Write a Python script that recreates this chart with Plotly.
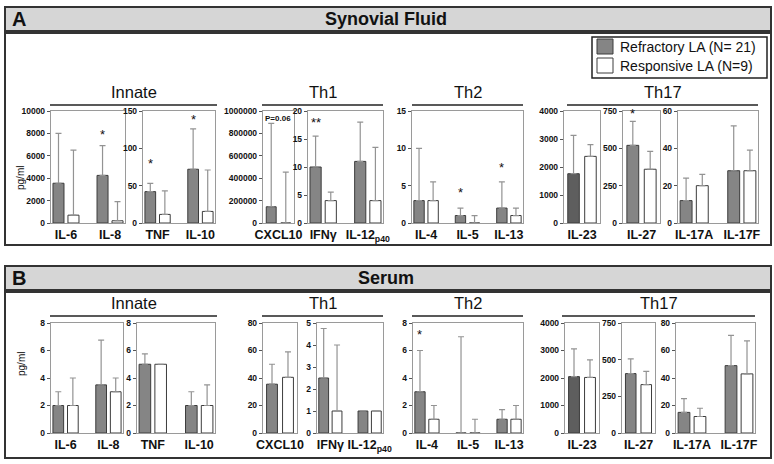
import plotly.graph_objects as go

FONT = "Liberation Sans, Arial, sans-serif"
W, H = 774, 464

# ---------------- data ----------------
group_names = ["Refractory LA (N= 21)", "Responsive LA (N=9)"]
block_labels = ["Innate", "Th1", "Th2", "Th17"]

cats = [["IL-6", "IL-8"], ["TNF", "IL-10"], ["CXCL10"], ["IFNγ", "IL-12<sub>p40</sub>"],
        ["IL-4", "IL-5", "IL-13"], ["IL-23"], ["IL-27"], ["IL-17A", "IL-17F"]]

# Panel A: synovial fluid (bar height and top of error bar)
sf_refractory = [[3550, 4250], [42, 72], [145000], [10, 11], [3, 1, 2], [1760], [520], [12, 28]]
sf_refractory_upper = [[8000, 6900], [53, 126], [890000], [15.5, 18], [10, 2, 5.5], [3130], [680], [24, 52]]
sf_responsive = [[700, 200], [11.5, 15.5], [0], [4, 4], [3, 0, 1], [2380], [360], [20, 28]]
sf_responsive_upper = [[6500, 1900], [43, 71], [455000], [5.5, 13.5], [5.5, 1, 2], [2800], [480], [26, 39]]
sf_ymax = [10000, 150, 1000000, 20, 15, 4000, 750, 60]
sf_ystep = [2000, 50, 200000, 5, 5, 1000, 250, 20]
sf_stars = [(0, 1, "*", 7900), (1, 0, "*", 80), (1, 1, "*", 138), (3, 0, "**", 18),
            (4, 1, "*", 4.1), (4, 2, "*", 7.5), (6, 0, "*", 730)]

# Panel B: serum
se_refractory = [[2, 3.5], [5, 2], [35.5], [2.5, 1], [3, 0, 1], [2050], [405], [15, 49]]
se_refractory_upper = [[3, 6.75], [5.75, 3], [50], [4.75, 1], [6, 7, 1.7], [3060], [505], [25, 71]]
se_responsive = [[2, 3], [5, 2], [40.5], [1, 1], [1, 0, 1], [2020], [330], [12, 43]]
se_responsive_upper = [[4, 4], [5, 3.5], [59], [4, 1], [2, 1, 2], [2660], [420], [18, 67]]
se_ymax = [8, 8, 80, 5, 8, 4000, 750, 80]
se_ystep = [2, 2, 20, 1, 2, 1000, 250, 20]
se_stars = [(4, 0, "*", 7.2)]

# ---------------- layout geometry (pixels) ----------------
A_xdom = [(51, 125), (143, 215), (263, 294), (308, 383), (412, 523), (564, 600), (623, 660), (678, 758)]
B_xdom = [(51, 123), (137, 215), (263, 297), (317, 383), (413, 523), (565, 599), (622, 655), (676, 755)]
A_ydom = (111, 223)
B_ydom = (323, 433)
A_blocks = [(50, 217), (262, 383), (412, 523), (567, 758)]
B_blocks = [(50, 217), (262, 383), (412, 523), (562, 755)]
ylabel_centers = [178, 364]


def px(x):
    return x / W


def py(y):
    return 1 - y / H


REF_COLOR = "#858585"
REF_DARK = "#5e5e5e"
EDGE = "#3c3c3c"
ERR = "#939393"
FRAME = "#9a9a9a"

fig = go.Figure()
layout = {}
annotations = []
shapes = []

panels = [
    dict(ref=sf_refractory, refu=sf_refractory_upper, res=sf_responsive, resu=sf_responsive_upper,
         ymax=sf_ymax, ystep=sf_ystep, stars=sf_stars, xdom=A_xdom, ydom=A_ydom),
    dict(ref=se_refractory, refu=se_refractory_upper, res=se_responsive, resu=se_responsive_upper,
         ymax=se_ymax, ystep=se_ystep, stars=se_stars, xdom=B_xdom, ydom=B_ydom),
]

k = 0
for p_i, P in enumerate(panels):
    for j in range(8):
        k += 1
        c = cats[j]
        n = len(c)
        xs = list(range(n))
        if n == 1:
            a, w, off = 0.5, 0.32, 0.235
        else:
            a, w, off = 0.34, 0.25, 0.17
        xa = "x" if k == 1 else f"x{k}"
        ya = "y" if k == 1 else f"y{k}"
        xkey = "xaxis" if k == 1 else f"xaxis{k}"
        ykey = "yaxis" if k == 1 else f"yaxis{k}"
        ref = P["ref"][j]
        res = P["res"][j]
        refcol = REF_DARK if c[0] == "IL-23" else REF_COLOR
        fig.add_trace(go.Bar(
            x=xs, y=ref, width=w, offset=-off - w / 2, xaxis=xa, yaxis=ya, showlegend=False,
            name=group_names[0],
            marker=dict(color=refcol, line=dict(color=EDGE, width=1)),
            error_y=dict(type="data", symmetric=False,
                         array=[u - v for u, v in zip(P["refu"][j], ref)], arrayminus=[0] * n,
                         color=ERR, thickness=1.2, width=3)))
        fig.add_trace(go.Bar(
            x=xs, y=res, width=w, offset=off - w / 2, xaxis=xa, yaxis=ya, showlegend=False,
            name=group_names[1],
            marker=dict(color="white", line=dict(color=EDGE, width=1)),
            error_y=dict(type="data", symmetric=False,
                         array=[u - v for u, v in zip(P["resu"][j], res)], arrayminus=[0] * n,
                         color=ERR, thickness=1.2, width=3)))
        x0, x1 = P["xdom"][j]
        y0, y1 = P["ydom"]
        ymax, ystep = P["ymax"][j], P["ystep"][j]
        tv = list(range(0, ymax + 1, ystep))
        layout[xkey] = dict(domain=[px(x0), px(x1)], range=[-a, n - 1 + a], anchor=ya,
                            tickmode="array", tickvals=xs, ticktext=c, ticks="",
                            showline=True, mirror=True, linecolor=FRAME, linewidth=1.2,
                            showgrid=False, zeroline=False, fixedrange=True, automargin=False,
                            tickfont=dict(family=FONT, size=12.5, color="#111", weight="bold"))
        layout[ykey] = dict(domain=[py(y1), py(y0)], range=[0, ymax], anchor=xa,
                            tickmode="array", tickvals=tv, ticktext=[str(t) for t in tv],
                            ticks="outside", ticklen=3, tickwidth=1, tickcolor="#555",
                            showline=True, mirror=True, linecolor=FRAME, linewidth=1.2,
                            showgrid=False, zeroline=False, fixedrange=True, automargin=False,
                            tickfont=dict(family=FONT, size=8.5, color="#111", weight="bold"))
        for (sj, ci, txt, yv) in P["stars"]:
            if sj == j:
                annotations.append(dict(x=ci - off, y=yv, xref=xa, yref=ya, text=txt, showarrow=False,
                                        font=dict(family=FONT, size=13, color="#111"),
                                        xanchor="center", yanchor="middle"))
        if p_i == 0 and j == 2:
            annotations.append(dict(x=-0.5, y=ymax * 0.935, xref=xa, yref=ya, text="<b>P=0.06</b>",
                                    showarrow=False, xanchor="left", yanchor="middle",
                                    font=dict(family=FONT, size=8, color="#111")))

# headers and boxes
for (hy0, hy1, by0, by1, letter, title) in [(7, 31, 33, 245, "A", "Synovial Fluid"),
                                             (266, 290, 292, 458, "B", "Serum")]:
    shapes.append(dict(type="rect", xref="paper", yref="paper", x0=px(5), x1=px(771), y0=py(hy1), y1=py(hy0),
                       fillcolor="#d6d6d6", line=dict(color="#333", width=2), layer="below"))
    shapes.append(dict(type="rect", xref="paper", yref="paper", x0=px(5), x1=px(771), y0=py(by1), y1=py(by0),
                       fillcolor="rgba(0,0,0,0)", line=dict(color="#333", width=2), layer="below"))
    annotations.append(dict(x=px(10), y=py((hy0 + hy1) / 2), xref="paper", yref="paper", text=f"<b>{letter}</b>",
                            showarrow=False, xanchor="left", yanchor="middle",
                            font=dict(family=FONT, size=20, color="#111")))
    annotations.append(dict(x=px(386), y=py((hy0 + hy1) / 2), xref="paper", yref="paper", text=f"<b>{title}</b>",
                            showarrow=False, xanchor="center", yanchor="middle",
                            font=dict(family=FONT, size=18, color="#111")))

# block lines and labels
for blocks, ly in [(A_blocks, 105), (B_blocks, 316)]:
    for (bx0, bx1), lab in zip(blocks, block_labels):
        shapes.append(dict(type="line", xref="paper", yref="paper", x0=px(bx0), x1=px(bx1), y0=py(ly), y1=py(ly),
                           line=dict(color="#222", width=1.5)))
        annotations.append(dict(x=px((bx0 + bx1) / 2), y=py(ly - 2), xref="paper", yref="paper", text=lab,
                                showarrow=False, xanchor="center", yanchor="bottom",
                                font=dict(family=FONT, size=16.5, color="#111")))

# y-axis title
for yc in ylabel_centers:
    annotations.append(dict(x=px(21), y=py(yc), xref="paper", yref="paper", text="pg/ml", textangle=-90,
                            showarrow=False, xanchor="center", yanchor="middle",
                            font=dict(family=FONT, size=10, color="#111")))

# legend box
shapes.append(dict(type="rect", xref="paper", yref="paper", x0=px(592), x1=px(767), y0=py(78), y1=py(37),
                   fillcolor="white", line=dict(color="#222", width=1.5)))
for (sy0, sy1, col, name) in [(39, 54, REF_COLOR, group_names[0]), (58, 73, "white", group_names[1])]:
    shapes.append(dict(type="rect", xref="paper", yref="paper", x0=px(597), x1=px(613), y0=py(sy1), y1=py(sy0),
                       fillcolor=col, line=dict(color=EDGE, width=1)))
    annotations.append(dict(x=px(618), y=py((sy0 + sy1) / 2), xref="paper", yref="paper", text=name,
                            showarrow=False, xanchor="left", yanchor="middle",
                            font=dict(family=FONT, size=14, color="#111")))

fig.update_layout(width=W, height=H, margin=dict(l=0, r=0, t=0, b=0, pad=0, autoexpand=False),
                  paper_bgcolor="white",
                  plot_bgcolor="rgba(0,0,0,0)", barmode="overlay", showlegend=False,
                  annotations=annotations, shapes=shapes, font=dict(family=FONT), **layout)
fig.write_html("out.html", config={"displayModeBar": False, "staticPlot": True},
               post_script="document.body.style.margin='0';document.body.style.padding='0';"
                           "document.body.style.overflow='hidden';")
